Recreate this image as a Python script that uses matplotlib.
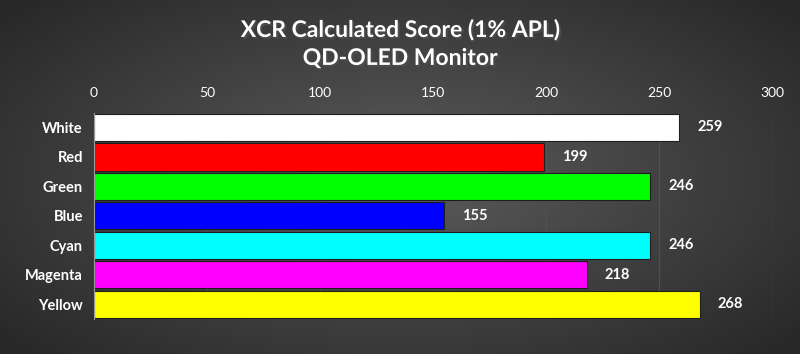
import matplotlib.pyplot as plt
import matplotlib.patheffects as pe
import numpy as np

plt.rcParams["font.family"] = ["Lato", "DejaVu Sans"]

categories = ["White", "Red", "Green", "Blue", "Cyan", "Magenta", "Yellow"]
scores = [259, 199, 246, 155, 246, 218, 268]
colors = ["#ffffff", "#ff0000", "#00ff00", "#0000ff", "#00ffff", "#ff00ff", "#ffff00"]
ticks = [0, 50, 100, 150, 200, 250, 300]

fig = plt.figure(figsize=(8, 3.54), dpi=100)

# radial gradient background
bg = fig.add_axes([0, 0, 1, 1], zorder=-10)
yy, xx = np.mgrid[-1:1:300j, -1:1:600j]
rad = np.sqrt((xx / 1.0) ** 2 + (yy / 1.1) ** 2)
shade = 0.36 - 0.2 * np.clip(rad / 1.3, 0, 1)
bg.imshow(shade, cmap="gray", vmin=0, vmax=1, aspect="auto",
          extent=[0, 1, 0, 1], interpolation="bicubic")
bg.axis("off")

ax = fig.add_axes([0.1175, 0.099, 0.8475, 0.583])
ax.patch.set_alpha(0)
y = np.arange(len(categories))
ax.barh(y, scores, height=0.93, color=colors, edgecolor="#1e1e1e",
        linewidth=0.8, zorder=3)
for yi, v in zip(y, scores):
    ax.text(v + 8, yi, str(v), va="center", ha="left", color="white",
            fontsize=10.5, fontweight="bold")

ax.set_xlim(0, 300)
ax.set_ylim(len(categories) - 0.5, -0.5)
ax.set_xticks(ticks)
ax.xaxis.tick_top()
ax.tick_params(axis="x", length=0, colors="white", labelsize=10, pad=10)
ax.tick_params(axis="y", length=0, colors="white", labelsize=10.5, pad=8)
ax.set_yticks(y)
ax.set_yticklabels(categories, fontweight="bold")
ax.grid(axis="x", color="#505050", linewidth=0.9, zorder=0)
for s in ["top", "right", "bottom"]:
    ax.spines[s].set_visible(False)
ax.spines["left"].set_color("#9a9a9a")
ax.spines["left"].set_zorder(4)

shadow = [pe.withSimplePatchShadow(offset=(1.5, -1.5), alpha=0.8)]
fig.text(0.5, 0.915, "XCR Calculated Score (1% APL)", ha="center", va="center",
         color="white", fontsize=16.5, fontweight="bold", path_effects=shadow)
fig.text(0.5, 0.835, "QD-OLED Monitor", ha="center", va="center",
         color="white", fontsize=16.5, fontweight="bold", path_effects=shadow)

fig.savefig("out.png", dpi=100)
